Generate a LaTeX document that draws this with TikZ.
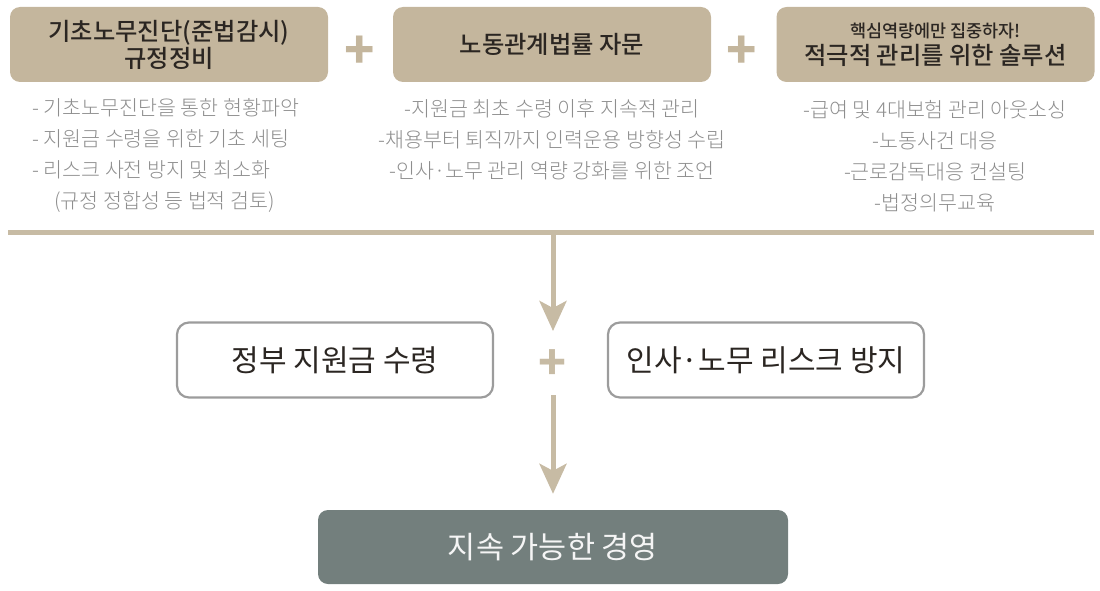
\documentclass[tikz,border=0pt]{standalone}
\usepackage{fontspec}
\setmainfont{Noto Sans CJK KR}
\newfontfamily\krmed{Noto Sans CJK KR Medium}
\newfontfamily\krlight{Noto Sans CJK KR Light}
\usetikzlibrary{arrows.meta}
\definecolor{boxtan}{HTML}{C4B69D}
\definecolor{linetan}{HTML}{C7BBA4}
\definecolor{headtext}{HTML}{2B2622}
\definecolor{listgray}{HTML}{8E8E8E}
\definecolor{framegray}{HTML}{9C9C9C}
\definecolor{goalgray}{HTML}{737F7D}
\begin{document}
\begin{tikzpicture}[x=1pt, y=-1pt,
    headbox/.style={fill=boxtan, rounded corners=10pt, minimum width=318pt,
      minimum height=75pt, inner sep=0pt, align=center, text=headtext,
      font=\krmed\fontsize{24.3}{27}\selectfont},
    listtext/.style={inner sep=0pt, text=listgray,
      font=\krlight\fontsize{20.6}{31}\selectfont},
    resultbox/.style={draw=framegray, line width=2.2pt, fill=white,
      rounded corners=12pt, minimum width=316pt, minimum height=75pt,
      inner sep=0pt, text=headtext, font=\fontsize{30}{32}\selectfont},
    plus/.style={inner sep=0pt, text=boxtan,
      font=\bfseries\fontsize{50}{50}\selectfont},
    bar/.style={draw=linetan, line width=5pt},
    flow/.style={draw=linetan, line width=5pt,
      -{Stealth[length=30pt, width=27pt, inset=7pt]}}]
    \useasboundingbox (0,0) rectangle (1100,591);

    % Top boxes
    \node[headbox] (diag) at (169,44.5) {기초노무진단(준법감시)\\규정정비};
    \node[headbox] (advice) at (552,44.5) {노동관계법률 자문};
    \node[headbox] (solution) at (935.5,44.5)
      {{\fontsize{17.5}{19}\selectfont 핵심역량에만 집중하자!}\\[0pt]적극적 관리를 위한 솔루션};
    \node[plus] (plusA) at (360,52) {+};
    \node[plus] (plusB) at (742,52) {+};

    % Lists
    \node[listtext, anchor=west, align=left] (diagList) at (32,155)
      {- 기초노무진단을 통한 현황파악\\
       - 지원금 수령을 위한 기초 세팅\\
       - 리스크 사전 방지 및 최소화\\
       \hspace*{22pt}(규정 정합성 등 법적 검토)};
    \node[listtext, align=center] (adviceList) at (552,140)
      {-지원금 최초 수령 이후 지속적 관리\\
       -채용부터 퇴직까지 인력운용 방향성 수립\\
       -인사·노무 관리 역량 강화를 위한 조언};
    \node[listtext, align=center] (solutionList) at (935,156)
      {-급여 및 4대보험 관리 아웃소싱\\
       -노동사건 대응\\
       -근로감독대응 컨설팅\\
       -법정의무교육};

    % Bar
    \coordinate (barL) at (8,232);
    \coordinate (barR) at (1094,232);
    \coordinate (barM) at (553,232);
    \draw[bar] (barL) -- (barR);

    % Results
    \node[resultbox] (subsidy) at (335,360) {정부 지원금 수령};
    \node[resultbox] (risk) at (766,360) {인사·노무 리스크 방지};
    \node[plus, text=linetan, font=\bfseries\fontsize{46}{46}\selectfont] (plusC) at (553,365) {+};
    \coordinate (tipA) at (553,331);
    \coordinate (startB) at (553,395);
    \node[fill=goalgray, rounded corners=10pt, minimum width=470pt,
      minimum height=74pt, text=white!92!gray,
      font=\fontsize{30.5}{32}\selectfont] (goal) at (553,547) {지속 가능한 경영};

    % Arrows
    \draw[flow] (barM) -- (tipA);
    \draw[flow, shorten >=16pt] (startB) -- (goal.north);
\end{tikzpicture}
\end{document}
